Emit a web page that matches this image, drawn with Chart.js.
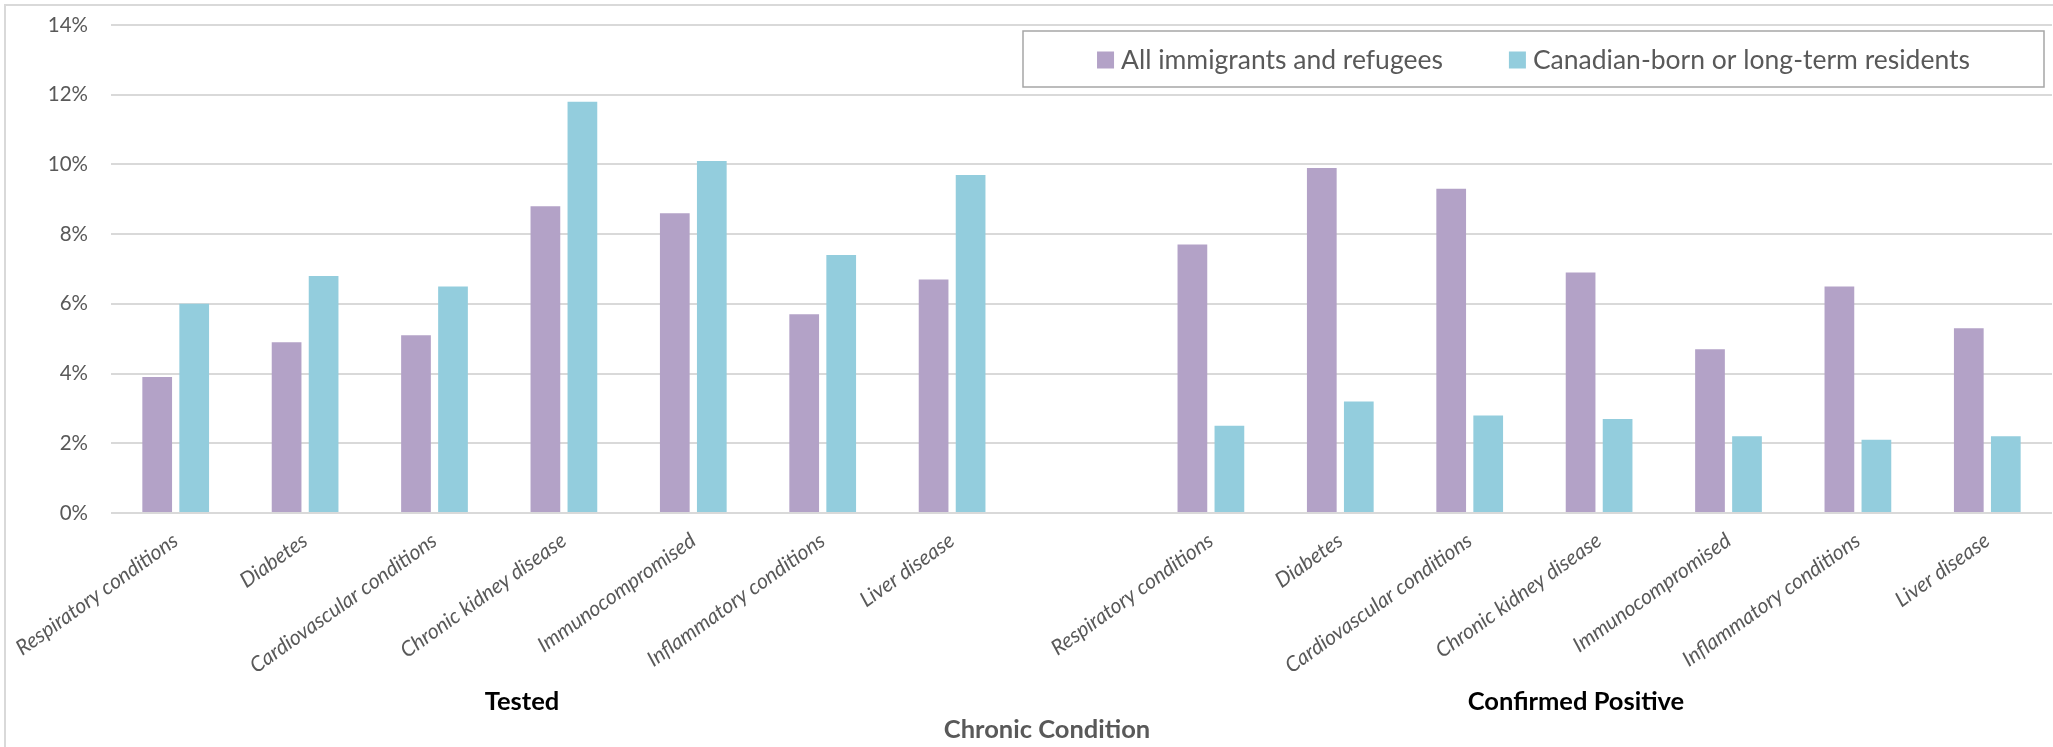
<!DOCTYPE html>
<html>
<head>
<meta charset="utf-8">
<script src="https://cdn.jsdelivr.net/npm/chart.js@4/dist/chart.umd.min.js"></script>
<style>
  html, body { margin: 0; padding: 0; background: #ffffff; }
  #wrap { width: 2053px; height: 747px; position: relative; }
</style>
</head>
<body>
<div id="wrap"><canvas id="chart" width="2053" height="747"></canvas></div>
<script>
// Chronic conditions shown in both panels
const conditions = [
  'Respiratory conditions', 'Diabetes', 'Cardiovascular conditions',
  'Chronic kidney disease', 'Immunocompromised', 'Inflammatory conditions', 'Liver disease'
];
const seriesNames = ['All immigrants and refugees', 'Canadian-born or long-term residents'];
const groupNames = ['Tested', 'Confirmed Positive'];
const axisTitle = 'Chronic Condition';

// Percent of each population with the condition
const testedImmigrants   = [3.9, 4.9, 5.1, 8.8, 8.6, 5.7, 6.7];
const testedCanadian     = [6.0, 6.8, 6.5, 11.8, 10.1, 7.4, 9.7];
const positiveImmigrants = [7.7, 9.9, 9.3, 6.9, 4.7, 6.5, 5.3];
const positiveCanadian   = [2.5, 3.2, 2.8, 2.7, 2.2, 2.1, 2.2];

const yTicks = [0, 2, 4, 6, 8, 10, 12, 14];

// One empty slot separates the two panels
const labels = [...conditions, '', ...conditions];
const immigrantsData = [...testedImmigrants, null, ...positiveImmigrants];
const canadianData = [...testedCanadian, null, ...positiveCanadian];

const FONT = 'Lato, "Open Sans", "DejaVu Sans", sans-serif';
const GREY_TEXT = '#595959';

// Frame around the whole chart
const framePlugin = {
  id: 'frame',
  beforeDraw(chart) {
    const ctx = chart.ctx;
    ctx.save();
    ctx.fillStyle = '#ffffff';
    ctx.fillRect(0, 0, chart.width, chart.height);
    ctx.strokeStyle = '#d9d9d9';
    ctx.lineWidth = 2;
    ctx.strokeRect(5, 5, chart.width + 20, chart.height + 20);
    ctx.restore();
  }
};

// Boxed legend sitting inside the plot area
const boxedLegend = {
  id: 'boxedLegend',
  afterDatasetsDraw(chart, args, opts) {
    const ctx = chart.ctx;
    const box = opts.box;
    ctx.save();
    ctx.fillStyle = '#ffffff';
    ctx.fillRect(box.x, box.y, box.w, box.h);
    ctx.strokeStyle = '#a6a6a6';
    ctx.lineWidth = 1.5;
    ctx.strokeRect(box.x, box.y, box.w, box.h);
    ctx.font = opts.fontSize + 'px ' + FONT;
    ctx.textBaseline = 'middle';
    ctx.textAlign = 'left';
    const items = chart.data.datasets.map(ds => ({ text: ds.label, color: ds.backgroundColor }));
    const widths = items.map(it => ctx.measureText(it.text).width);
    let total = 0;
    items.forEach((it, i) => {
      total += opts.square + opts.textGap + widths[i];
      if (i < items.length - 1) total += opts.itemGap;
    });
    let x = box.x + box.w / 2 - total / 2 + opts.shift;
    const cy = box.y + box.h / 2 + 1;
    items.forEach((it, i) => {
      ctx.fillStyle = it.color;
      ctx.fillRect(x, cy - opts.square / 2, opts.square, opts.square);
      x += opts.square + opts.textGap;
      ctx.fillStyle = GREY_TEXT;
      ctx.fillText(it.text, x, cy);
      x += widths[i] + opts.itemGap;
    });
    ctx.restore();
  }
};

// Panel names under the category labels, plus the axis title
const groupLabels = {
  id: 'groupLabels',
  afterDraw(chart, args, opts) {
    const ctx = chart.ctx;
    ctx.save();
    ctx.textAlign = 'center';
    ctx.textBaseline = 'middle';
    ctx.font = 'bold ' + opts.fontSize + 'px ' + FONT;
    ctx.fillStyle = '#000000';
    opts.groups.forEach(g => ctx.fillText(g.text, g.x, opts.groupY));
    ctx.fillStyle = GREY_TEXT;
    ctx.fillText(opts.title, opts.titleX, opts.titleY);
    ctx.restore();
  }
};

new Chart(document.getElementById('chart'), {
  type: 'bar',
  data: {
    labels: labels,
    datasets: [
      { label: seriesNames[0], data: immigrantsData, backgroundColor: '#B3A2C7' },
      { label: seriesNames[1], data: canadianData, backgroundColor: '#93CDDD' }
    ]
  },
  options: {
    responsive: false,
    animation: false,
    devicePixelRatio: 1,
    layout: { padding: { left: 0, right: 1, top: 25, bottom: 0 } },
    datasets: { bar: { categoryPercentage: 0.572, barPercentage: 0.803 } },
    plugins: {
      legend: { display: false },
      tooltip: { enabled: false },
      boxedLegend: {
        box: { x: 1023, y: 31, w: 1021, h: 56 },
        fontSize: 26.5, square: 17, textGap: 7, itemGap: 66, shift: 0
      },
      groupLabels: {
        groups: [ { text: groupNames[0], x: 522 }, { text: groupNames[1], x: 1576 } ],
        groupY: 702, title: axisTitle, titleX: 1047, titleY: 730, fontSize: 25.5
      }
    },
    scales: {
      x: {
        grid: { display: false },
        border: { display: false },
        ticks: {
          autoSkip: false, minRotation: 35.5, maxRotation: 35.5, padding: 7,
          color: GREY_TEXT,
          font: { family: FONT, size: 21, style: 'italic' }
        },
        afterFit(scale) { scale.height = 234; }
      },
      y: {
        min: 0, max: 14,
        afterBuildTicks(scale) { scale.ticks = yTicks.map(v => ({ value: v })); },
        grid: { color: '#d9d9d9', lineWidth: 2, drawTicks: false },
        border: { display: false },
        ticks: {
          padding: 23, color: GREY_TEXT,
          font: { family: FONT, size: 20.5 },
          callback: v => v + '%'
        },
        afterFit(scale) {
          scale.width = 111;
          // keep the label gap from pushing the plot area down
          scale.paddingTop = 0;
          scale.paddingBottom = 0;
        }
      }
    }
  },
  plugins: [framePlugin, boxedLegend, groupLabels]
});
</script>
</body>
</html>
